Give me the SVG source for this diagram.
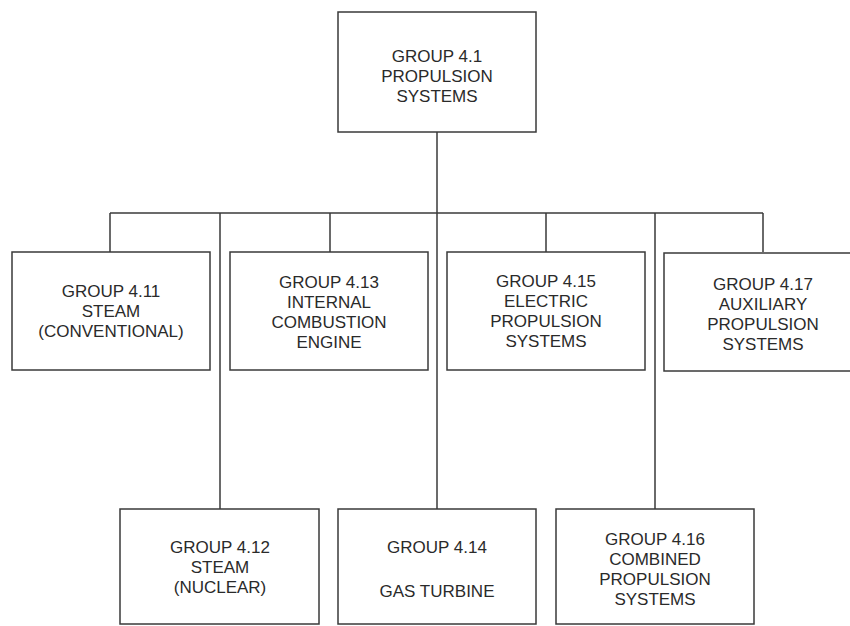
<svg xmlns="http://www.w3.org/2000/svg" width="850" height="626" viewBox="0 0 850 626">
<style>
.box{fill:#fff;stroke:#3a3a3a;stroke-width:1.5}
.ln{fill:none;stroke:#3a3a3a;stroke-width:1.5}
text{font-family:"Liberation Sans",Arial,sans-serif;font-size:17px;fill:#2a2a2a;text-anchor:middle}
</style>
<rect width="850" height="626" fill="#fff"/>
<g id="connectors">
<path class="ln" d="M437 132V509"/>
<path class="ln" d="M110 213H763"/>
<path class="ln" d="M110 213V252M330 213V252M546 213V252M763 213V252"/>
<path class="ln" d="M220 213V509M655 213V509"/>
</g>
<g id="g41">
<rect class="box" x="338" y="12" width="198" height="120"/>
<text x="437" y="62">GROUP 4.1</text>
<text x="437" y="82">PROPULSION</text>
<text x="437" y="102">SYSTEMS</text>
</g>
<g id="g411">
<rect class="box" x="12" y="252" width="198" height="118"/>
<text x="111" y="297">GROUP 4.11</text>
<text x="111" y="317">STEAM</text>
<text x="111" y="337">(CONVENTIONAL)</text>
</g>
<g id="g413">
<rect class="box" x="230" y="252" width="198" height="118"/>
<text x="329" y="288">GROUP 4.13</text>
<text x="329" y="308">INTERNAL</text>
<text x="329" y="328">COMBUSTION</text>
<text x="329" y="348">ENGINE</text>
</g>
<g id="g415">
<rect class="box" x="447" y="252" width="198" height="118"/>
<text x="546" y="287">GROUP 4.15</text>
<text x="546" y="307">ELECTRIC</text>
<text x="546" y="327">PROPULSION</text>
<text x="546" y="347">SYSTEMS</text>
</g>
<g id="g417">
<rect class="box" x="664" y="253" width="198" height="118"/>
<text x="763" y="290">GROUP 4.17</text>
<text x="763" y="310">AUXILIARY</text>
<text x="763" y="330">PROPULSION</text>
<text x="763" y="350">SYSTEMS</text>
</g>
<g id="g412">
<rect class="box" x="120" y="509" width="199" height="115"/>
<text x="220" y="553">GROUP 4.12</text>
<text x="220" y="573">STEAM</text>
<text x="220" y="593">(NUCLEAR)</text>
</g>
<g id="g414">
<rect class="box" x="338" y="509" width="198" height="115"/>
<text x="437" y="553">GROUP 4.14</text>
<text x="437" y="597">GAS TURBINE</text>
</g>
<g id="g416">
<rect class="box" x="556" y="509" width="198" height="115"/>
<text x="655" y="545">GROUP 4.16</text>
<text x="655" y="565">COMBINED</text>
<text x="655" y="585">PROPULSION</text>
<text x="655" y="605">SYSTEMS</text>
</g>
</svg>
